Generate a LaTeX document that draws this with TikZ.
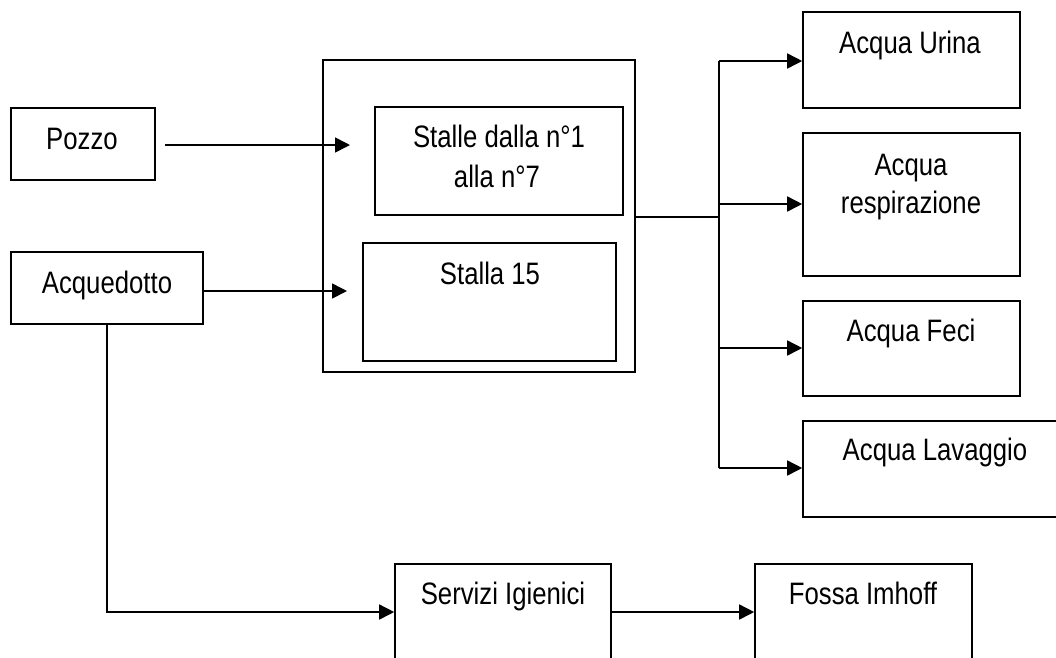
\documentclass[tikz,border=0pt]{standalone}
\usepackage{fontspec}
\setmainfont[FakeStretch=0.83]{Liberation Sans}
\usetikzlibrary{arrows.meta}
\begin{document}
\begin{tikzpicture}[x=1pt,y=-1pt,
  box/.style={draw=black,line width=1.6pt,rectangle,inner sep=0pt},
  txt/.style={anchor=base,inner sep=0pt,font=\fontsize{31}{37}\selectfont},
  arr/.style={line width=1.6pt,-{Triangle[length=15pt,width=15pt]}},
  ln/.style={line width=1.6pt}]
\useasboundingbox (0,0) rectangle (1056,657);
\clip (0,0) rectangle (1056,657);
% boxes
\node[box,minimum width=144pt,minimum height=72pt] (pozzo) at (83,144) {};
\node[box,minimum width=192pt,minimum height=72pt] (acq) at (107,288) {};
\node[box,minimum width=312pt,minimum height=312pt] (cont) at (479,216) {};
\node[box,minimum width=248pt,minimum height=108pt] (stalle) at (499,161) {};
\node[box,minimum width=253pt,minimum height=118pt] (stalla) at (489.5,302) {};
\node[box,minimum width=217pt,minimum height=96pt] (urina) at (911.5,60) {};
\node[box,minimum width=217pt,minimum height=143pt] (resp) at (911.5,204.5) {};
\node[box,minimum width=217pt,minimum height=95pt] (feci) at (911.5,348.5) {};
\node[box,minimum width=277pt,minimum height=96pt] (lav) at (941.5,469) {};
\node[box,minimum width=216pt,minimum height=126pt] (serv) at (503,627) {};
\node[box,minimum width=217pt,minimum height=126pt] (fossa) at (863.5,627) {};
% texts
\node[txt] (pozzoT) at (82,149) {Pozzo};
\node[txt] (acqT) at (107,293) {Acquedotto};
\node[txt] (stalleT1) at (499,147) {Stalle dalla n°1};
\node[txt] (stalleT2) at (497,187) {alla n°7};
\node[txt] (stallaT) at (490,284) {Stalla 15};
\node[txt] (urinaT) at (910,53) {Acqua Urina};
\node[txt] (respT1) at (911,175) {Acqua};
\node[txt] (respT2) at (911,213) {respirazione};
\node[txt] (feciT) at (911,341) {Acqua Feci};
\node[txt] (lavT) at (935,460) {Acqua Lavaggio};
\node[txt] (servT) at (503,604) {Servizi Igienici};
\node[txt] (fossaT) at (863,604) {Fossa Imhoff};
% connector points
\coordinate (p2) at (350,145);
\coordinate (a2) at (347,291);
\coordinate (jn) at (719,217);
\coordinate (vtop) at (719,61);
\coordinate (vbot) at (719,468);
\coordinate (b2) at (719,204);
\coordinate (b3) at (719,348);
\coordinate (lowy) at (0,612);
% connectors
\draw[arr] ([xshift=9pt]pozzo.east |- p2) -- (p2);
\draw[arr] (acq.east |- a2) -- (a2);
\draw[ln] (cont.east |- jn) -- (jn);
\draw[ln] (vtop) -- (vbot);
\draw[arr] (vtop) -- (urina.west |- vtop);
\draw[arr] (b2) -- (resp.west |- b2);
\draw[arr] (b3) -- (feci.west |- b3);
\draw[arr] (vbot) -- (lav.west |- vbot);
\draw[arr] (acq.south) |- (serv.west |- lowy);
\draw[arr] (serv.east |- lowy) -- (fossa.west |- lowy);
\end{tikzpicture}
\end{document}
